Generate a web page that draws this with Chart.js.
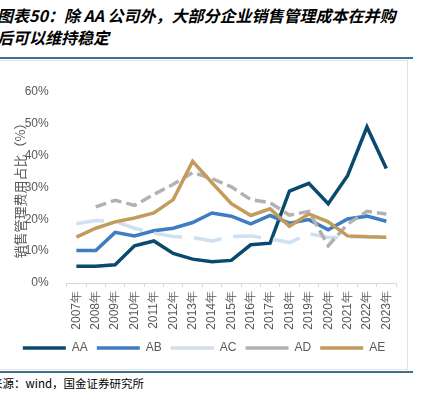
<!DOCTYPE html>
<html>
<head>
<meta charset="utf-8">
<script src="https://cdn.jsdelivr.net/npm/chart.js@4/dist/chart.umd.min.js"></script>
<style>
  body { margin: 0; background: #fff; width: 424px; height: 395px; overflow: hidden; position: relative; }
  #title { position: absolute; left: -3px; top: 4px; font: italic bold 16px "Noto Sans CJK SC", sans-serif; line-height: 22px; color: #000; white-space: nowrap; }
  .rule { position: absolute; left: 0; width: 413px; height: 2px; background: #41718f; }
  #box { position: absolute; left: -2px; top: 60px; width: 408px; height: 308px; border: 1px solid #e3e3e3; }
  #wrap { position: absolute; left: 0; top: 60px; width: 407px; height: 308px; }
  #source { position: absolute; left: -9px; top: 375px; font: 11.5px "Noto Sans CJK SC", sans-serif; color: #000; white-space: nowrap; }
</style>
</head>
<body>
<div id="title">图表50：除 AA 公司外，大部分企业销售管理成本在并购<br>后可以维持稳定</div>
<div class="rule" style="top:57px"></div>
<div id="box"></div>
<div id="wrap"><canvas id="chart"></canvas></div>
<div class="rule" style="top:371px"></div>
<div id="source">来源：wind，国金证券研究所</div>
<script>
// ========== Data ==========
const years = ['2007年', '2008年', '2009年', '2010年', '2011年', '2012年', '2013年', '2014年', '2015年',
    '2016年', '2017年', '2018年', '2019年', '2020年', '2021年', '2022年', '2023年'];
const aa = [5.3, 5.3, 5.7, 11.7, 13.2, 9.3, 7.5, 6.7, 7.1, 12.0, 12.5, 28.9, 31.3, 24.9, 33.7, 49.0, 36.0];
const ab = [10.2, 10.2, 15.9, 14.8, 16.4, 17.2, 19.0, 22.0, 21.0, 18.6, 21.2, 18.8, 19.9, 16.7, 20.1, 21.0, 19.4];
const ac = [18.6, 19.6, 19.4, 17.2, 15.7, 14.6, 14.3, 13.2, 14.6, 14.8, 13.9, 12.7, 15.5, 14.3, 14.3, 14.6, 14.4];
const ad = [null, 23.9, 26.0, 24.4, 27.8, 31.0, 34.7, 32.8, 30.2, 26.2, 25.2, 21.3, 22.5, 11.7, 18.5, 22.5, 21.7];
const ae = [14.4, 17.2, 19.2, 20.4, 22.0, 26.2, 38.2, 31.5, 24.9, 21.2, 23.3, 17.8, 21.7, 19.2, 14.8, 14.5, 14.4];

const textColor = '#595959';
const axisColor = '#d9d9d9';

function line(label, data, color, dash, order) {
    return {
        label: label,
        data: data,
        borderColor: color,
        backgroundColor: color,
        borderWidth: 3.5,
        borderDash: dash,
        pointRadius: 0,
        tension: 0,
        fill: false,
        order: order
    };
}

new Chart(document.getElementById('chart'), {
    type: 'line',
    data: {
        labels: years,
        datasets: [
            line('AA', aa, '#0b4a6f', [], 4),
            line('AB', ab, '#3d7dc0', [], 3),
            line('AC', ac, '#cfe0f1', [28, 12], 2),
            line('AD', ad, '#b2b2b2', [11, 5], 1),
            line('AE', ae, '#c39b5a', [], 0)
        ]
    },
    options: {
        responsive: true,
        maintainAspectRatio: false,
        animation: false,
        layout: { padding: { left: 12, right: 11, top: 32, bottom: 4 } },
        scales: {
            x: {
                offset: true,
                grid: { offset: true, drawOnChartArea: false, tickLength: 4, color: axisColor },
                border: { display: true, color: axisColor },
                ticks: {
                    color: textColor,
                    font: { family: 'Liberation Sans', size: 12 },
                    minRotation: 90,
                    maxRotation: 90,
                    padding: 4,
                    autoSkip: false
                },
                afterFit: function (scale) { scale.height = 50; }
            },
            y: {
                min: 0,
                max: 60,
                ticks: {
                    stepSize: 10,
                    color: textColor,
                    font: { family: 'Liberation Sans', size: 12 },
                    padding: 10,
                    callback: function (v) { return v + '%'; }
                },
                grid: { display: false },
                border: { display: false },
                title: {
                    display: true,
                    text: '销售管理费用占比（%）',
                    color: textColor,
                    font: { family: 'Noto Sans CJK SC', size: 13 },
                    padding: 0
                },
                afterFit: function (scale) { scale.width = 54.7; }
            }
        },
        plugins: {
            legend: {
                position: 'bottom',
                labels: {
                    usePointStyle: true,
                    pointStyle: 'line',
                    pointStyleWidth: 43,
                    color: textColor,
                    font: { family: 'Liberation Sans', size: 12 },
                    padding: 9,
                    sort: function (a, b) { return a.datasetIndex - b.datasetIndex; }
                }
            },
            tooltip: { enabled: false }
        }
    }
});
</script>
</body>
</html>
